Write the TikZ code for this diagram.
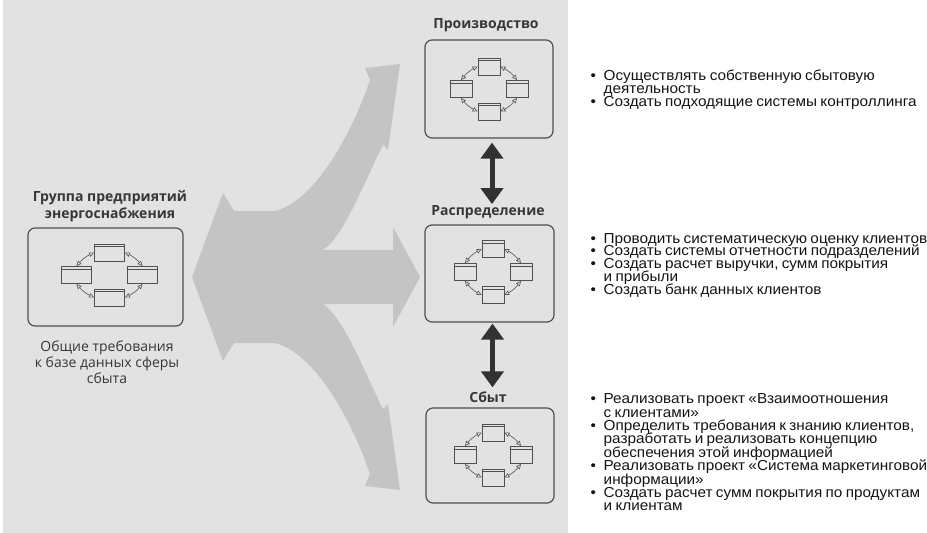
\documentclass[tikz,border=0pt]{standalone}
\usepackage{fontspec}
\setmainfont{Liberation Sans}
\newfontfamily\bulfont{Liberation Sans}[FakeStretch=1.055]
\newfontfamily\opensans{Open Sans}
\usetikzlibrary{arrows.meta}

\definecolor{pagebg}{RGB}{226,226,226}
\definecolor{bigarrowc}{RGB}{196,196,196}
\definecolor{boxline}{RGB}{80,80,80}
\definecolor{darkarrow}{RGB}{50,50,50}
\definecolor{txt}{RGB}{20,20,20}

\tikzset{
  groupbox/.style={draw=boxline, line width=1.2pt, rounded corners=7pt, inner sep=0},
  minirect/.style={draw=boxline, line width=0.8pt, inner sep=0},
  linkarrow/.style={draw=boxline, line width=0.6pt,
    {Triangle[open,length=5pt,width=4.5pt]}-{Triangle[open,length=5pt,width=4.5pt]}, bend right=12},
  flowarrow/.style={draw=darkarrow, line width=5pt,
    {Triangle[length=16pt,width=22pt]}-{Triangle[length=16pt,width=22pt]}},
  boxtitle/.style={font=\opensans\bfseries\fontsize{14}{17}\selectfont, text=txt!85, inner sep=0, align=center},
  boxnote/.style={font=\opensans\fontsize{14}{16}\selectfont, text=txt!85, inner sep=0, align=center},
  bullets/.style={text width=340pt, inner sep=0, align=left, anchor=north west, text=txt}
}

\newcommand\bulset[1]{\bulfont\fontsize{14.5}{#1}\selectfont\lineskiplimit=-20pt\relax\lineskip=0pt\relax\parskip=0pt\relax}
\newcommand\bitem[1]{\par\hangindent=13pt\relax\hangafter=1\relax\noindent\makebox[13pt][l]{\textbullet}#1}

\newcommand\mycluster[7]{%
  \node[minirect, minimum width=#6, minimum height=#7] (#1t) at (#2, #3-#5) {};
  \node[minirect, minimum width=#6, minimum height=#7] (#1l) at (#2-#4, #3) {};
  \node[minirect, minimum width=#6, minimum height=#7] (#1r) at (#2+#4, #3) {};
  \node[minirect, minimum width=#6, minimum height=#7] (#1b) at (#2, #3+#5) {};
  \foreach \s in {t,l,r,b}{\draw[boxline, line width=0.6pt] ([yshift=-3pt]#1\s.north west) -- ([yshift=-3pt]#1\s.north east);}
  \draw[linkarrow] (#1t.west) to (#1l.north);
  \draw[linkarrow] (#1l.south) to (#1b.west);
  \draw[linkarrow] (#1b.east) to (#1r.south);
  \draw[linkarrow] (#1r.north) to (#1t.east);
}

\begin{document}
\begin{tikzpicture}[x=1pt, y=-1pt]
\useasboundingbox (0,0) rectangle (927,533);
\fill[white] (0,0) rectangle (927,533);
\fill[pagebg] (3,0) rectangle (568,533);

% large grey three-way arrow
\fill[bigarrowc] (192,277) -- (223,193) -- (234,211) -- (275,211)
  .. controls (318,200) and (355,125) .. (370,80) -- (365,68) -- (400,64) -- (388,150) -- (383,145)
  .. controls (365,180) and (345,235) .. (323,250) -- (393,250) -- (393,227) -- (420,277)
  -- (393,327) -- (393,304) -- (323,304)
  .. controls (345,319) and (365,374) .. (383,409) -- (388,404) -- (400,490) -- (365,486) -- (370,474)
  .. controls (355,429) and (318,354) .. (275,343) -- (234,343) -- (223,361) -- cycle;

% left group
\node[boxtitle] (grouptitle) at (110,206) {Группа предприятий\\энергоснабжения};
\node[groupbox, minimum width=155, minimum height=98] (group) at (105.5,277) {};
\mycluster{g}{109.5}{275}{33}{22.5}{30}{17}
\node[boxnote] (groupnote) at (107,362) {Общие требования\\к базе данных сферы\\сбыта};

% right column
\node[boxtitle] (prodtitle) at (486,25) {Производство};
\node[groupbox, minimum width=128, minimum height=98] (prod) at (489,89) {};
\mycluster{p}{489}{89}{28}{22.5}{22}{17}

\node[boxtitle] (disttitle) at (488,212) {Распределение};
\node[groupbox, minimum width=129, minimum height=97] (dist) at (489.5,273.5) {};
\mycluster{d}{493}{272}{28}{23}{22}{17}

\node[boxtitle] (saletitle) at (488,397) {Сбыт};
\node[groupbox, minimum width=128, minimum height=95] (sale) at (490,455.5) {};
\mycluster{s}{493}{455}{28}{22.5}{22}{17}

\draw[flowarrow, shorten <=4pt, shorten >=1pt] ([xshift=3pt]prod.south) -- ([xshift=3pt]prod.south |- disttitle.north);
\draw[flowarrow, shorten <=1pt, shorten >=4pt] ([xshift=3pt]dist.south) -- ([xshift=3pt]dist.south |- saletitle.north);

% bullet lists
\node[bullets] (list1) at (590.5,67) {\bulset{13}\bitem{\rule{0pt}{12pt}Осуществлять собственную сбытовую\newline деятельность}\bitem{Создать подходящие системы контроллинга}\par};
\node[bullets] (list2) at (590.5,230) {\bulset{12.8}\bitem{\rule{0pt}{12pt}Проводить систематическую оценку клиентов}\bitem{Создать системы отчетности подразделений}\bitem{Создать расчет выручки, сумм покрытия\newline и прибыли}\bitem{Создать банк данных клиентов}\par};
\node[bullets] (list3) at (590.5,390) {\bulset{13.4}\bitem{\rule{0pt}{12pt}Реализовать проект «Взаимоотношения\newline с клиентами»}\bitem{Определить требования к знанию клиентов,\newline разработать и реализовать концепцию\newline обеспечения этой информацией}\bitem{Реализовать проект «Система маркетинговой\newline информации»}\bitem{Создать расчет сумм покрытия по продуктам\newline и клиентам}\par};
\end{tikzpicture}
\end{document}
